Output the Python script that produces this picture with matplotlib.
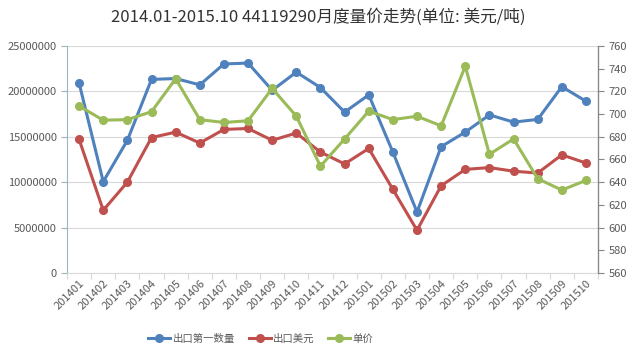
import numpy as np
import matplotlib
matplotlib.use("Agg")
import matplotlib.pyplot as plt

plt.rcParams['font.family'] = ['Noto Sans CJK SC', 'DejaVu Sans']

# data
months = ["201401", "201402", "201403", "201404", "201405", "201406", "201407", "201408",
          "201409", "201410", "201411", "201412", "201501", "201502", "201503", "201504",
          "201505", "201506", "201507", "201508", "201509", "201510"]
quantity = [20900000, 10050000, 14600000, 21300000, 21400000, 20700000, 23000000, 23100000,
            20100000, 22100000, 20400000, 17700000, 19600000, 13300000, 6700000, 13900000,
            15500000, 17400000, 16600000, 16900000, 20500000, 18900000]
usd = [14700000, 6900000, 10000000, 14900000, 15500000, 14300000, 15800000, 15900000,
       14600000, 15400000, 13300000, 12000000, 13700000, 9200000, 4700000, 9600000,
       11400000, 11600000, 11200000, 11000000, 13000000, 12100000]
price = [707, 694.5, 695, 702, 731, 695, 692.5, 694, 722.5, 698, 654, 678,
         702.5, 695, 698, 689.5, 742, 664.5, 678, 643, 633, 641.5]

blue = "#4F81BD"
red = "#C0504D"
green = "#9BBB59"
tick_col = "#595959"

fig = plt.figure(figsize=(6.39, 3.55), dpi=100)
ax = fig.add_axes([0.1049, 0.231, 0.831, 0.640])
x = np.arange(len(months))

l1, = ax.plot(x, quantity, color=blue, lw=2.2, marker="o", ms=5.5, label="出口第一数量")
l2, = ax.plot(x, usd, color=red, lw=2.2, marker="o", ms=5.5, label="出口美元")
ax.set_ylim(0, 25000000)
ax.set_yticks(np.arange(0, 25000001, 5000000))
ax.set_yticklabels([str(v) for v in range(0, 25000001, 5000000)])
ax.set_xlim(-0.5, len(months) - 0.5)
ax.grid(axis="y", color="#D9D9D9", lw=0.8)
ax.set_axisbelow(True)

ax2 = ax.twinx()
l3, = ax2.plot(x, price, color=green, lw=2.2, marker="o", ms=5.5, label="单价")
ax2.set_ylim(560, 760)
ax2.set_yticks(np.arange(560, 761, 20))

# x ticks at category boundaries, labels at centers
ax.set_xticks(np.arange(-0.5, len(months), 1))
ax.set_xticklabels([])
ax.set_xticks(x, minor=True)
ax.set_xticklabels(months, minor=True, rotation=45, ha="right", rotation_mode="anchor",
                   fontsize=8, color=tick_col)
ax.tick_params(axis="x", which="minor", length=0, pad=4)
ax.tick_params(axis="x", which="major", length=4, color="#D9D9D9")
ax.tick_params(axis="y", labelsize=8, labelcolor=tick_col, length=4, color="#9DB5BE")
ax2.tick_params(axis="y", labelsize=8, labelcolor=tick_col, length=4, color="#868686")

for a in (ax, ax2):
    a.spines["top"].set_visible(False)
ax.spines["left"].set_color("#9DB5BE")
ax.spines["bottom"].set_color("#D9D9D9")
ax2.spines["left"].set_visible(False)
ax2.spines["bottom"].set_visible(False)
ax2.spines["right"].set_color("#868686")

fig.text(0.498, 0.952, "2014.01-2015.10 44119290月度量价走势(单位: 美元/吨)",
         ha="center", va="center", fontsize=12, color="#333333")

fig.legend(handles=[l1, l2, l3], loc="center", bbox_to_anchor=(0.408, 0.045), ncol=3,
           frameon=False, fontsize=7.5, handlelength=2.1, columnspacing=1.35,
           handletextpad=0.2, labelcolor=tick_col)

fig.savefig("out.png", dpi=100)
